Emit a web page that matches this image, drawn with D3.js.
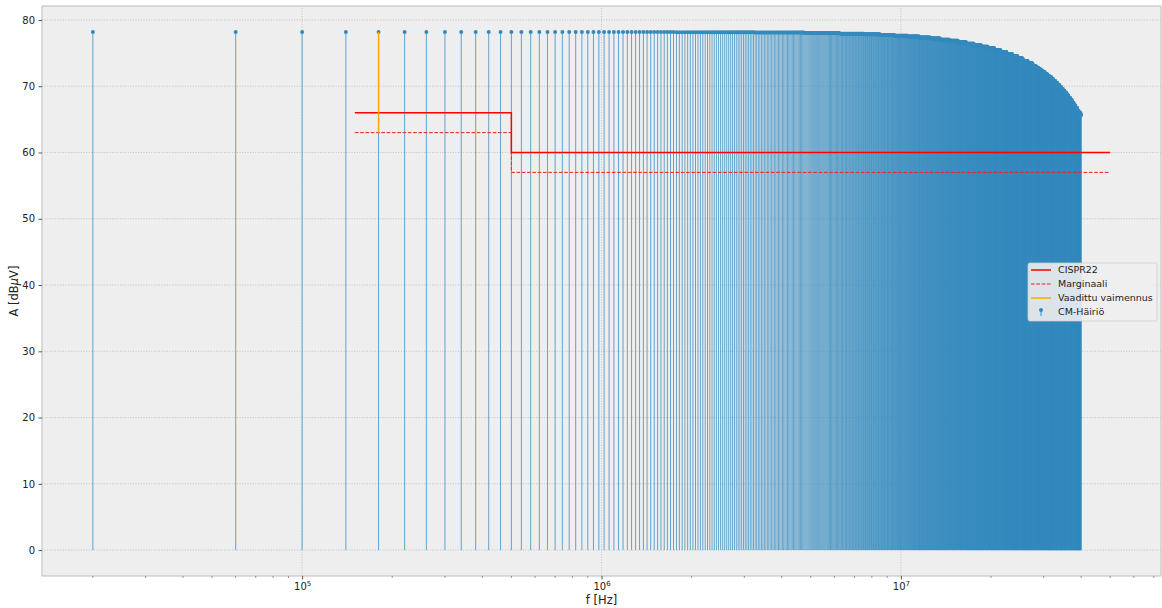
<!DOCTYPE html>
<html>
<head>
<meta charset="utf-8">
<script src="https://cdn.jsdelivr.net/npm/d3@7"></script>
<style>
  body { margin: 0; background: #ffffff; }
  svg { display: block; font-family: "DejaVu Sans", sans-serif; }
</style>
</head>
<body>
<div id="chart"></div>
<script>
// spectrum: odd harmonics of a 20 kHz square-ish wave
var fundamentalHz = 20000;
var harmonicOrders = d3.range(1, 2000, 2);

// envelope of the harmonic tops (MHz -> dBuV)
var envelopeMHz = [1, 2.5, 4, 5.5, 7, 8, 9, 10, 11, 12, 13, 14, 15, 16, 17, 18, 19, 20,
  21, 22, 23, 24, 25, 26, 27, 28, 28.5, 29, 29.5, 30, 30.5, 31, 31.5, 32, 32.5, 33,
  33.5, 34, 34.5, 35, 35.5, 36, 36.5, 37, 37.5, 38, 38.5, 39, 39.5, 40];
var envelopeDb = [78.2, 78.16, 78.1, 78.02, 77.92, 77.83, 77.73, 77.62, 77.5, 77.36,
  77.2, 77.03, 76.85, 76.65, 76.43, 76.2, 75.95, 75.72, 75.45, 75.15, 74.85, 74.52,
  74.18, 73.82, 73.43, 73.02, 72.8, 72.58, 72.35, 72.1, 71.86, 71.6, 71.34, 71.08,
  70.8, 70.52, 70.22, 69.92, 69.6, 69.28, 68.95, 68.6, 68.24, 67.87, 67.48, 67.08,
  66.7, 66.3, 65.98, 65.7];

// CISPR22 limit and the margin line
var limitMHz = [0.15, 0.5, 0.5, 50];
var limitDb = [66, 66, 60, 60];
var marginDb = [63, 63, 57, 57];

// required attenuation marker
var attenMHz = [0.18, 0.18];
var attenDb = [63, 78.2];

var yTicks = [0, 10, 20, 30, 40, 50, 60, 70, 80];
var xTicks = [1e5, 1e6, 1e7];
var xTickExp = ["5", "6", "7"];

var legendLabels = ["CISPR22", "Marginaali", "Vaadittu vaimennus", "CM-Häiriö"];

var width = 1162, height = 608;
var margin = {top: 6, right: 1, bottom: 32, left: 42};
var blue = "#348ABD";

var svg = d3.select("#chart").append("svg")
    .attr("width", width)
    .attr("height", height);

// build stem data
var stems = harmonicOrders.map(function(n) {
    var f = n * fundamentalHz;
    var i = d3.minIndex(envelopeMHz, function(m) { return Math.abs(m - f / 1e6); });
    return {f: f, a: envelopeDb[i]};
});

// scales, with the 5% padding matplotlib uses
var lx = [Math.log10(stems[0].f), Math.log10(limitMHz[3] * 1e6)];
var padX = (lx[1] - lx[0]) * 0.05;
var x = d3.scaleLog()
    .domain([Math.pow(10, lx[0] - padX), Math.pow(10, lx[1] + padX)])
    .range([margin.left, width - margin.right]);

var yMax = d3.max(stems, function(d) { return d.a; });
var padY = yMax * 0.05;
var y = d3.scaleLinear()
    .domain([-padY, yMax + padY])
    .range([height - margin.bottom, margin.top]);

var x0 = margin.left, x1 = width - margin.right;
var y0 = height - margin.bottom, y1 = margin.top;

// background
svg.append("rect")
    .attr("x", x0).attr("y", y1)
    .attr("width", x1 - x0).attr("height", y0 - y1)
    .attr("fill", "#eeeeee");

// grid
var grid = svg.append("g");
grid.selectAll(".gy").data(yTicks).enter().append("line")
    .attr("x1", x0).attr("x2", x1)
    .attr("y1", function(d) { return y(d); })
    .attr("y2", function(d) { return y(d); })
    .attr("stroke", "#b2b2b2").attr("stroke-width", 0.7)
    .attr("stroke-dasharray", "1,1.6");
grid.selectAll(".gx").data(xTicks).enter().append("line")
    .attr("y1", y0).attr("y2", y1)
    .attr("x1", function(d) { return x(d); })
    .attr("x2", function(d) { return x(d); })
    .attr("stroke", "#b2b2b2").attr("stroke-width", 0.7)
    .attr("stroke-dasharray", "1,1.6");

// stems
var stemG = svg.append("g");
stemG.selectAll("line").data(stems).enter().append("line")
    .attr("x1", function(d) { return x(d.f); })
    .attr("x2", function(d) { return x(d.f); })
    .attr("y1", y(0))
    .attr("y2", function(d) { return y(d.a); })
    .attr("stroke", blue)
    .attr("stroke-opacity", 0.75)
    .attr("stroke-width", 1);
stemG.selectAll("circle").data(stems).enter().append("circle")
    .attr("cx", function(d) { return x(d.f); })
    .attr("cy", function(d) { return y(d.a); })
    .attr("r", 2)
    .attr("fill", blue);

// limit lines
var line = d3.line()
    .x(function(d) { return x(d[0] * 1e6); })
    .y(function(d) { return y(d[1]); });

svg.append("path")
    .datum(d3.zip(limitMHz, marginDb))
    .attr("d", line)
    .attr("fill", "none")
    .attr("stroke", "#f02020")
    .attr("stroke-width", 1)
    .attr("stroke-dasharray", "3.7,1.6");

svg.append("path")
    .datum(d3.zip(limitMHz, limitDb))
    .attr("d", line)
    .attr("fill", "none")
    .attr("stroke", "#ff0000")
    .attr("stroke-width", 1.5);

svg.append("path")
    .datum(d3.zip(attenMHz, attenDb))
    .attr("d", line)
    .attr("fill", "none")
    .attr("stroke", "#FFA500")
    .attr("stroke-width", 1.5);

// frame
svg.append("rect")
    .attr("x", x0).attr("y", y1)
    .attr("width", x1 - x0).attr("height", y0 - y1)
    .attr("fill", "none")
    .attr("stroke", "#bcbcbc")
    .attr("stroke-width", 1);

// y axis
var yAxis = svg.append("g")
    .attr("transform", "translate(" + x0 + ",0)")
    .call(d3.axisLeft(y).tickValues(yTicks).tickSize(3.5).tickPadding(3.5));
yAxis.select(".domain").remove();
yAxis.selectAll("line").attr("stroke", "#555");
yAxis.selectAll("text").attr("font-size", 10).attr("fill", "#222")
    .attr("font-family", "DejaVu Sans");

// x axis: major ticks with 10^n labels, then minor ticks
var xAxis = svg.append("g")
    .attr("transform", "translate(0," + y0 + ")")
    .call(d3.axisBottom(x).tickValues(xTicks).tickSize(3.5).tickPadding(3.5).tickFormat(""));
xAxis.select(".domain").remove();
xAxis.selectAll("line").attr("stroke", "#555");
xAxis.selectAll(".tick text").each(function(d, i) {
    var t = d3.select(this)
        .attr("font-size", 10).attr("fill", "#222")
        .attr("font-family", "DejaVu Sans");
    t.append("tspan").text("10");
    t.append("tspan").attr("dy", -4.5).attr("font-size", 7).text(xTickExp[i]);
});

var minor = [];
[1e4, 1e5, 1e6, 1e7].forEach(function(dec) {
    for (var k = 2; k <= 9; k++) {
        var v = k * dec;
        if (v > x.domain()[0] && v < x.domain()[1]) minor.push(v);
    }
});
svg.append("g").selectAll("line").data(minor).enter().append("line")
    .attr("x1", function(d) { return x(d); })
    .attr("x2", function(d) { return x(d); })
    .attr("y1", y0).attr("y2", y0 + 2)
    .attr("stroke", "#555").attr("stroke-width", 0.6);

// axis labels
svg.append("text")
    .attr("x", (x0 + x1) / 2)
    .attr("y", 604)
    .attr("text-anchor", "middle")
    .attr("font-size", 11.5)
    .attr("fill", "#222")
    .text("f [Hz]");

var yl = svg.append("text")
    .attr("transform", "translate(18," + ((y0 + y1) / 2) + ") rotate(-90)")
    .attr("text-anchor", "middle")
    .attr("font-size", 11.5)
    .attr("fill", "#222");
yl.append("tspan").text("A [dB");
yl.append("tspan").attr("font-style", "italic").text("μ");
yl.append("tspan").text("V]");

// legend
var lg = svg.append("g").attr("transform", "translate(1028,263)");
lg.append("rect")
    .attr("width", 129).attr("height", 58).attr("rx", 2)
    .attr("fill", "#eeeeee").attr("fill-opacity", 0.9)
    .attr("stroke", "#cccccc").attr("stroke-width", 0.8);

var rows = lg.selectAll(".row").data(legendLabels).enter().append("g")
    .attr("transform", function(d, i) { return "translate(0," + (7 + i * 14) + ")"; });

rows.append("text")
    .attr("x", 30).attr("y", 0).attr("dy", "0.35em")
    .attr("font-size", 9.5).attr("fill", "#222")
    .text(function(d) { return d; });

rows.filter(function(d, i) { return i == 0; }).append("line")
    .attr("x1", 3).attr("x2", 23).attr("stroke", "#ff0000").attr("stroke-width", 1.5);
rows.filter(function(d, i) { return i == 1; }).append("line")
    .attr("x1", 3).attr("x2", 23).attr("stroke", "#f02020").attr("stroke-width", 1)
    .attr("stroke-dasharray", "3.7,1.6");
rows.filter(function(d, i) { return i == 2; }).append("line")
    .attr("x1", 3).attr("x2", 23).attr("stroke", "#FFA500").attr("stroke-width", 1.5);
var stemKey = rows.filter(function(d, i) { return i == 3; });
stemKey.append("line")
    .attr("x1", 13).attr("x2", 13).attr("y1", 4).attr("y2", -2)
    .attr("stroke", blue).attr("stroke-width", 1);
stemKey.append("circle")
    .attr("cx", 13).attr("cy", -2).attr("r", 2).attr("fill", blue);
</script>
</body>
</html>
